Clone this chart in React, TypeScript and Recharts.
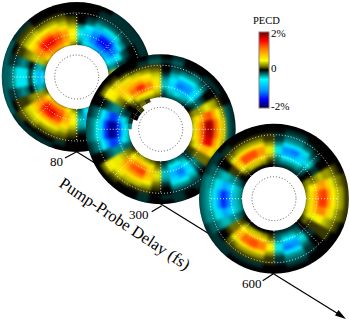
import React from 'react';
import { PieChart, Pie, Cell, PolarGrid } from 'recharts';

// PECD in tenths of a percent, one row per ring (inner to outer),
// 36 sectors per row running clockwise from the top of the disk
const pecd80 = [
  [-2,-5,-8,-9,-10,-9,-6,-3,3,5,3,-3,-6,-9,-10,-9,-6,-2,3,6,9,9,9,6,2,-3,-7,-7,-3,3,7,10,10,9,7,3],
  [-4,-8,-12,-14,-14,-12,-8,-3,5,9,5,-3,-8,-12,-14,-12,-8,-3,5,9,13,14,14,10,3,-4,-10,-10,-4,4,10,13,14,13,10,5],
  [-5,-9,-13,-17,-18,-14,-8,-2,5,9,5,-2,-8,-14,-18,-15,-10,-4,6,10,15,18,17,12,3,-3,-5,-5,-3,4,12,17,18,15,11,6],
  [-5,-8,-12,-16,-16,-12,-6,-1,3,6,3,-1,-6,-12,-16,-14,-9,-4,6,9,14,16,15,10,3,0,-1,-1,0,4,11,16,16,13,10,6],
  [-3,-6,-9,-10,-10,-7,-2,-1,2,4,2,-1,-3,-7,-10,-9,-6,-3,4,7,10,10,10,8,2,-2,-5,-5,-2,3,8,11,11,9,7,4],
  [0,-2,-4,-5,-5,-3,-1,0,1,2,1,0,-1,-3,-5,-4,-2,-1,2,4,5,6,6,5,1,-3,-7,-7,-3,2,6,6,6,5,4,2],
  [0,-1,-2,-2,-2,-1,0,0,0,1,0,0,0,-1,-2,-2,-1,0,1,2,3,3,4,4,1,-2,-5,-5,-2,1,4,4,3,3,2,1],
  [0,0,-1,-1,-1,-1,0,0,0,0,0,0,0,-1,-1,-1,0,0,0,1,1,1,2,2,1,-1,-3,-3,-1,1,2,2,1,1,1,0],
  [0,0,-1,-1,-1,-1,-1,-1,-1,-1,-1,-1,-1,-1,-1,-1,-1,0,0,-1,0,0,0,1,0,-1,-2,-2,-1,0,1,1,0,0,0,0],
  [0,0,0,-1,-1,-1,-1,-1,-1,-1,-1,-1,-1,-1,-1,0,0,0,0,0,-1,-1,-1,-1,-2,-2,-2,-2,-2,-2,-1,-1,0,0,0,0],
];

const pecd300 = [
  [-1,-2,-2,-2,-1,0,2,4,5,5,5,3,1,-1,-2,-3,-2,-1,1,2,3,4,3,1,-2,-4,-5,-5,-3,-1,0,1,2,3,3,2],
  [-2,-4,-5,-4,-3,-1,3,7,9,9,8,5,1,-1,-4,-6,-5,-2,2,5,7,8,6,2,-2,-6,-8,-8,-5,-1,0,2,5,6,6,4],
  [-4,-7,-9,-9,-6,-2,3,9,13,14,12,8,2,-2,-6,-10,-8,-4,4,8,12,12,9,3,-3,-11,-15,-15,-10,-2,1,5,10,13,11,7],
  [-4,-8,-13,-12,-8,-2,4,13,20,20,18,9,2,-3,-8,-13,-10,-4,5,9,15,14,11,4,-3,-15,-20,-20,-15,-3,2,7,13,16,12,7],
  [-3,-7,-11,-11,-7,-1,5,14,20,20,18,9,2,-2,-7,-11,-8,-3,4,8,12,11,9,5,-3,-15,-20,-20,-15,-3,3,8,10,11,8,5],
  [-1,-4,-6,-6,-4,0,4,10,13,13,11,7,2,-1,-4,-6,-5,-1,2,6,7,7,7,5,-2,-11,-15,-15,-11,-2,5,8,8,7,6,4],
  [0,-2,-3,-3,-2,0,3,6,8,8,7,4,1,0,-2,-3,-3,0,1,3,4,4,5,6,-1,-6,-8,-8,-6,-1,6,7,5,4,3,2],
  [0,-1,-1,-2,-1,0,1,3,4,4,3,2,0,0,-1,-1,-1,0,0,1,1,2,3,5,0,-3,-5,-5,-3,0,6,4,2,1,1,1],
  [-1,-2,0,0,-1,-1,0,-2,-2,-2,-2,-1,0,0,-1,0,-1,-1,0,-1,0,0,1,2,0,-2,-3,-3,-2,0,2,1,0,0,-1,-2],
  [0,-1,0,0,0,0,0,-1,-1,-1,-1,0,0,0,0,0,-1,0,0,-1,0,0,0,0,0,-1,-2,-2,-1,0,0,0,0,0,0,-1],
];

const pecd600 = [
  [-1,-1,-1,-1,-1,0,2,3,4,4,4,3,1,0,-1,-1,-1,-1,0,0,0,0,0,0,-1,-3,-3,-3,-3,-1,0,0,0,0,0,0],
  [-2,-3,-3,-3,-2,0,3,6,7,7,7,5,2,0,-2,-3,-3,-2,1,3,4,4,3,1,-2,-4,-4,-4,-4,-2,0,2,4,4,3,1],
  [-3,-6,-6,-5,-3,0,2,7,10,10,9,5,1,0,-3,-6,-6,-3,3,7,8,8,6,2,-3,-7,-9,-9,-7,-3,1,5,8,8,7,3],
  [-5,-11,-11,-8,-5,-1,3,10,14,15,12,6,1,-1,-5,-11,-11,-5,6,12,14,13,9,2,-3,-9,-13,-13,-9,-3,1,8,14,14,11,5],
  [-5,-12,-13,-9,-4,-1,4,11,15,15,12,6,1,-1,-4,-12,-13,-5,6,12,14,13,9,2,-4,-11,-16,-16,-11,-4,1,9,14,14,11,5],
  [-3,-7,-7,-5,-2,0,3,8,10,10,8,4,1,0,-2,-7,-7,-3,3,7,8,7,5,1,-4,-8,-12,-12,-8,-4,0,5,7,7,7,3],
  [-1,-3,-3,-2,-1,0,3,5,6,6,5,3,1,0,-1,-3,-3,-1,1,3,3,3,2,0,-3,-5,-7,-7,-5,-3,0,2,3,3,3,1],
  [-1,-2,-2,-1,0,0,2,3,4,4,3,2,1,0,-1,-2,-2,-1,1,1,1,1,1,0,-2,-3,-4,-4,-3,-2,0,1,1,1,1,1],
  [0,-1,-1,0,0,0,1,2,3,3,2,1,0,0,0,-1,-1,0,0,-1,-1,-1,-1,-1,-2,-3,-3,-3,-3,-2,-1,-1,0,0,0,0],
  [0,0,0,0,0,0,0,1,1,1,1,0,0,0,0,0,0,0,0,0,0,0,-1,-1,-1,-2,-2,-2,-2,-1,-1,0,0,0,0,0],
];

// sectors that reach into the central hole of the 300 fs disk
const n = null;
const notch300Outer = [n,n,n,n,n,n,n,n,n,n,n,n,n,n,n,n,n,n,n,n,n,n,n,n,n,n,n,-3,-1,0,0,1,2,1,n,n];
const notch300Inner = [n,n,n,n,n,n,n,n,n,n,n,n,n,n,n,n,n,n,n,n,n,n,n,n,n,n,n,n,n,0,0,1,n,n,n,n];

const delays = ['80', '300', '600'];
const colorValues = [-22, -17, -12, -5.5, -2, 0, 2, 5.5, 12, 17, 22];
const colorHexes = ['#00004a', '#0000ff', '#0090ff', '#00ffff', '#006060', '#000000', '#707000', '#ffff00', '#ff8000', '#ff0000', '#700000'];
const gridAngles = [0, 45, 90, 135, 180, 225, 270, 315];
const gridRadii = [43, 64];

const W = 350;
const H = 321;
const HOLE = 32;
const OUTER = 75;
const RING_W = (OUTER - HOLE) / 10;

const hexToRgb = (h: string) => [1, 3, 5].map((i) => parseInt(h.slice(i, i + 2), 16));

function heat(v: number) {
  let i = 0;
  while (i < colorValues.length - 2 && v > colorValues[i + 1]) i++;
  const t = (v - colorValues[i]) / (colorValues[i + 1] - colorValues[i]);
  const a = hexToRgb(colorHexes[i]);
  const b = hexToRgb(colorHexes[i + 1]);
  const c = a.map((x, k) => Math.round(x + (b[k] - x) * t));
  return `rgb(${c[0]},${c[1]},${c[2]})`;
}

const layer: React.CSSProperties = { position: 'absolute', left: 0, top: 0, width: W, height: H };
const margin = { top: 0, right: 0, bottom: 0, left: 0 };

function NotchRing({ row, cx, cy, inner, outer }: { row: (number | null)[]; cx: number; cy: number; inner: number; outer: number }) {
  return (
    <Pie
      data={row.map((v) => ({ value: 1, v }))}
      dataKey="value"
      cx={cx}
      cy={cy}
      innerRadius={inner}
      outerRadius={outer}
      startAngle={90}
      endAngle={-270}
      stroke="none"
      isAnimationActive={false}
    >
      {row.map((v, i) => (
        <Cell key={i} fill={v === null ? 'none' : heat(v)} />
      ))}
    </Pie>
  );
}

function Disk({ rings, cx, cy, notches }: { rings: number[][]; cx: number; cy: number; notches?: (number | null)[][] }) {
  return (
    <>
      <div style={{ ...layer, clipPath: `circle(${OUTER}px at ${cx}px ${cy}px)` }}>
        <div style={{ ...layer, filter: 'blur(1.8px)', background: '#000' }}>
          <PieChart width={W} height={H} margin={margin}>
            {rings.map((row, r) => (
              <Pie
                key={r}
                data={row.map((v) => ({ value: 1, v }))}
                dataKey="value"
                cx={cx}
                cy={cy}
                innerRadius={HOLE + r * RING_W}
                outerRadius={HOLE + (r + 1) * RING_W}
                startAngle={90}
                endAngle={-270}
                isAnimationActive={false}
              >
                {row.map((v, i) => (
                  <Cell key={i} fill={heat(v)} stroke={heat(v)} />
                ))}
              </Pie>
            ))}
          </PieChart>
        </div>
      </div>
      <div style={{ ...layer, filter: 'blur(0.5px)' }}>
        <PieChart width={W} height={H} margin={margin}>
          <Pie data={[{ value: 1 }]} dataKey="value" cx={cx} cy={cy} innerRadius={0} outerRadius={HOLE} fill="#fff" stroke="none" isAnimationActive={false} />
          {notches && NotchRing({ row: notches[0], cx, cy, inner: HOLE - 3, outer: HOLE + 1 })}
          {notches && NotchRing({ row: notches[1], cx, cy, inner: HOLE - 7, outer: HOLE - 3 })}
        </PieChart>
      </div>
      <div style={layer}>
        <PieChart width={W} height={H} margin={margin} cx={cx} cy={cy} innerRadius={HOLE} outerRadius={64}>
          <PolarGrid polarAngles={gridAngles} polarRadius={gridRadii} gridType="circle" stroke="#fff" strokeOpacity={0.85} strokeDasharray="1 2" />
        </PieChart>
      </div>
      <div style={layer}>
        <PieChart width={W} height={H} margin={margin} cx={cx} cy={cy} innerRadius={0} outerRadius={22}>
          <PolarGrid polarAngles={[]} polarRadius={[22]} gridType="circle" radialLines={false} stroke="#555" strokeDasharray="1 2" />
        </PieChart>
      </div>
    </>
  );
}

export default function App() {
  const stops = [...colorValues].reverse();
  return (
    <div style={{ ...layer, background: '#fff', overflow: 'hidden', fontFamily: '"Liberation Serif", serif' }}>
      <svg width={W} height={H} style={layer}>
        <line x1={76.7} y1={151.7} x2={340} y2={315} stroke="#000" strokeWidth={1.2} />
        <path d="M346 319 L335 315.5 L338.5 310 Z" fill="#000" />
      </svg>
      <Disk rings={pecd80} cx={76.7} cy={77} />
      <Disk rings={pecd300} cx={160.7} cy={129.3} notches={[notch300Outer, notch300Inner]} />
      <Disk rings={pecd600} cx={274} cy={198.7} />
      <svg width={W} height={H} style={layer}>
        <defs>
          <linearGradient id="pecdBar" x1="0" y1="0" x2="0" y2="1">
            {stops.map((v) => (
              <stop key={v} offset={`${((22 - v) / 44) * 100}%`} stopColor={heat(v)} />
            ))}
          </linearGradient>
        </defs>
        <rect x={259} y={32} width={10} height={76} fill="url(#pecdBar)" stroke="#8a7a7a" />
        <text x={253} y={24} fontSize={10.5} fill="#000">PECD</text>
        <text x={271} y={37} fontSize={11} fill="#000">2%</text>
        <text x={271} y={72} fontSize={11} fill="#000">0</text>
        <text x={271} y={110} fontSize={11} fill="#000">-2%</text>

        <line x1={76.7} y1={151.7} x2={65} y2={158} stroke="#000" strokeWidth={1.2} />
        <line x1={161.7} y1={205.7} x2={151.7} y2={211.7} stroke="#000" strokeWidth={1.2} />
        <line x1={273} y1={274} x2={262.7} y2={280.7} stroke="#000" strokeWidth={1.2} />
        <text x={50} y={166} fontSize={13} fill="#000">{delays[0]}</text>
        <text x={129} y={219} fontSize={13} fill="#000">{delays[1]}</text>
        <text x={242} y={288} fontSize={13} fill="#000">{delays[2]}</text>
        <text x={58} y={186} fontSize={16.5} fill="#000" transform="rotate(33.6 58 186)">Pump-Probe Delay (fs)</text>
      </svg>
    </div>
  );
}
